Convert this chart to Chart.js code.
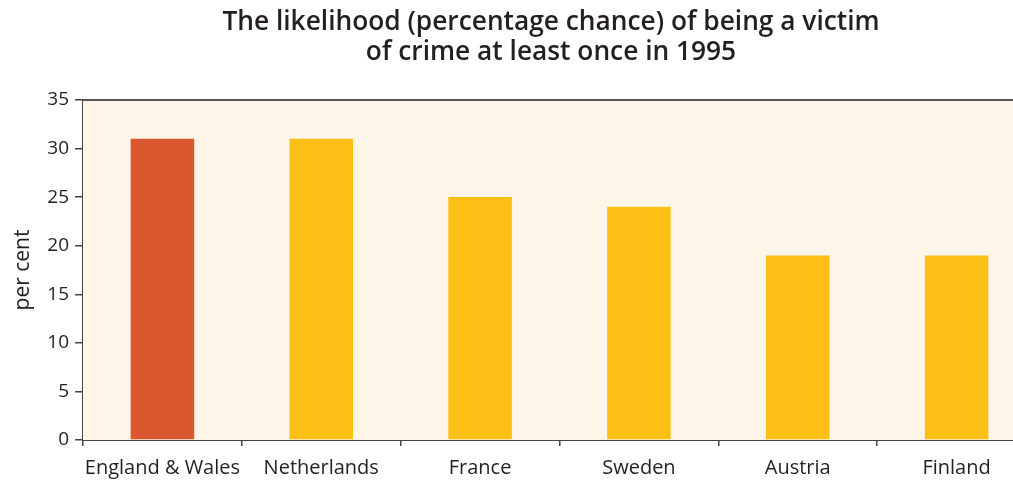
<!DOCTYPE html>
<html>
<head>
<meta charset="utf-8">
<script src="https://cdn.jsdelivr.net/npm/chart.js@4"></script>
<style>
  html, body { margin: 0; padding: 0; background: #fff; overflow: hidden; }
  #wrap { width: 1102px; height: 484px; }
</style>
</head>
<body>
<div id="wrap"><canvas id="crimeChart" width="1102" height="484"></canvas></div>
<script>
// categories and values
const countries = ['England & Wales', 'Netherlands', 'France', 'Sweden', 'Austria', 'Finland'];
const victimPct = [31, 31, 25, 24, 19, 19];
const barColours = ['#d9582f', '#fbbf15', '#fbbf15', '#fbbf15', '#fbbf15', '#fbbf15'];
const yTicks = [0, 5, 10, 15, 20, 25, 30, 35];

const FONT = '"Open Sans"';

// cream plot background + top border line
const plotFrame = {
    id: 'plotFrame',
    beforeDatasetsDraw(chart) {
        const { ctx, chartArea: a } = chart;
        ctx.save();
        ctx.fillStyle = '#fdf5e7';
        ctx.fillRect(a.left, a.top, a.right - a.left, a.bottom - a.top);
        ctx.restore();
    },
    afterDraw(chart) {
        const { ctx, chartArea: a } = chart;
        ctx.save();
        ctx.strokeStyle = '#555';
        ctx.lineWidth = 2;
        ctx.beginPath();
        ctx.moveTo(a.left, a.top);
        ctx.lineTo(a.right, a.top);
        ctx.stroke();
        ctx.restore();
    }
};

new Chart(document.getElementById('crimeChart'), {
    type: 'bar',
    data: {
        labels: countries,
        datasets: [{
            data: victimPct,
            backgroundColor: barColours,
            categoryPercentage: 1,
            barPercentage: 0.4
        }]
    },
    options: {
        responsive: false,
        animation: false,
        plugins: {
            legend: { display: false },
            tooltip: { enabled: false },
            title: {
                display: true,
                text: ['The likelihood (percentage chance) of being a victim', 'of crime at least once in 1995'],
                color: '#231f20',
                font: { family: FONT, size: 26.3, weight: 600, lineHeight: 1.14 },
                padding: { top: 8, bottom: 32 }
            }
        },
        scales: {
            x: {
                grid: { display: true, drawOnChartArea: false, offset: true, tickLength: 6, color: '#444', lineWidth: 1.5 },
                border: { display: true, color: '#444', width: 2 },
                ticks: { color: '#231f20', font: { family: FONT, size: 20 }, padding: 10, maxRotation: 0, autoSkip: false },
                afterFit(s) { s.height = 44; }
            },
            y: {
                min: 0,
                max: 35,
                afterBuildTicks(s) { s.ticks = yTicks.map(v => ({ value: v })); },
                grid: { display: true, drawOnChartArea: false, tickLength: 8, color: '#444', lineWidth: 1.5 },
                border: { display: true, color: '#444', width: 2 },
                ticks: { color: '#231f20', font: { family: FONT, size: 19 }, padding: 6 },
                title: { display: true, text: 'per cent', color: '#231f20', font: { family: FONT, size: 21 }, padding: { top: 10, bottom: 0 } },
                afterFit(s) { s.width = 83; }
            },
            // empty right-hand spacer so the title centres like the original
            spacer: {
                type: 'linear',
                position: 'right',
                grid: { display: false },
                border: { display: false },
                ticks: { display: false },
                afterFit(s) { s.width = 66; }
            }
        }
    },
    plugins: [plotFrame]
});
</script>
</body>
</html>
